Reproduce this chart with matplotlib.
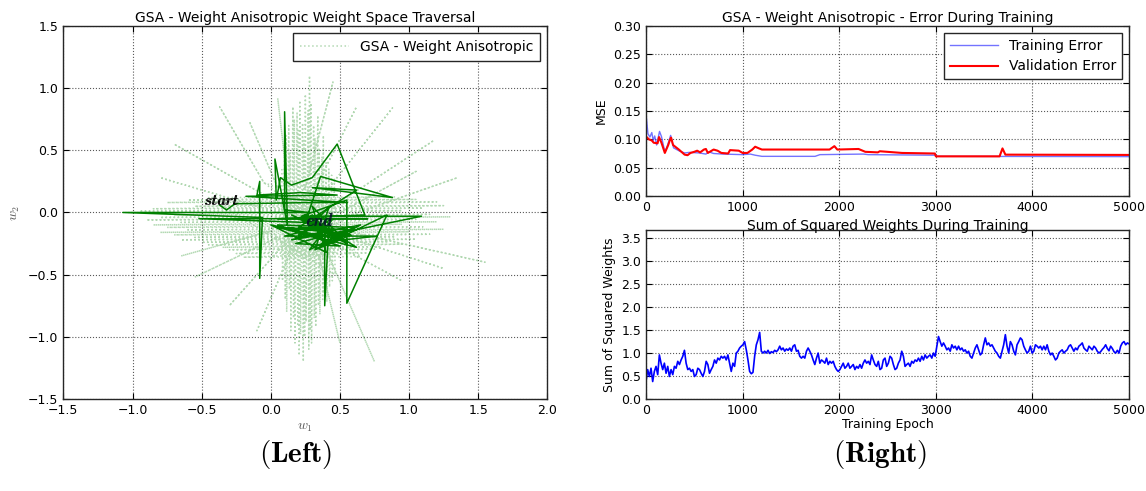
import numpy as np
import matplotlib
matplotlib.use("Agg")
import matplotlib.pyplot as plt

# ---------------- left panel: weight space traversal ----------------
# dotted cloud: vertical strokes (x, top, bottom)
vert_w1 = [0.08, 0.10, 0.11, 0.13, 0.14, 0.16, 0.17, 0.19, 0.20, 0.21, 0.23, 0.24, 0.25,
           0.27, 0.28, 0.29, 0.31, 0.32, 0.34, 0.35, 0.37, 0.38, 0.40, 0.42, 0.44, 0.46]
vert_top = [0.35, 0.55, 0.62, 0.70, 0.48, 0.85, 0.75, 0.80, 0.66, 0.90, 0.72, 0.58, 0.95,
            0.82, 1.10, 0.88, 0.70, 0.60, 0.78, 0.52, 0.45, 0.62, 0.40, 0.35, 0.30, 0.28]
vert_bot = [-0.55, -0.70, -0.80, -0.62, -0.95, -0.85, -1.05, -0.90, -1.15, -0.98, -1.20, -1.00, -0.88,
            -1.10, -0.95, -1.05, -0.85, -0.92, -0.75, -0.82, -0.70, -0.65, -0.72, -0.60, -0.55, -0.50]
# horizontal strokes (y, left, right)
horiz_w2 = [0.12, 0.10, 0.08, 0.05, 0.03, 0.01, -0.02, -0.04, -0.06, -0.08, -0.10, -0.12,
            -0.14, -0.16, -0.18, -0.20, -0.22, -0.24, -0.26, -0.28, -0.30, -0.33, -0.36]
horiz_left = [-0.45, -0.60, -0.75, -0.55, -0.85, -0.95, -0.70, -0.80, -0.90, -0.65, -0.85, -0.75,
              -0.60, -0.80, -0.70, -0.55, -0.65, -0.50, -0.45, -0.35, -0.30, -0.25, -0.20]
horiz_right = [0.90, 1.05, 1.20, 1.25, 1.10, 0.95, 1.15, 1.30, 1.05, 1.20, 0.95, 1.10,
               1.25, 1.00, 1.15, 0.90, 1.05, 0.85, 0.95, 0.80, 0.75, 0.70, 0.65]
# radial spokes (outer point -> inner point)
spoke_out_w1 = [-0.37, -0.15, 0.05, 0.45, 0.62, 0.88, 1.18, 1.35, 1.55, 1.25, 0.75, 0.50,
                -0.10, -0.30, -0.55, -0.65, -0.80, -0.70, 1.05, 0.95]
spoke_out_w2 = [0.85, 0.72, 0.92, 1.05, 0.85, 0.84, 0.58, 0.28, -0.40, -0.45, -1.20, -1.05,
                -0.95, -0.75, -0.52, -0.35, 0.28, 0.55, 0.33, -0.55]
spoke_in_w1 = [-0.05, 0.05, 0.12, 0.25, 0.30, 0.35, 0.45, 0.50, 0.55, 0.55, 0.40, 0.35,
               0.15, 0.10, 0.05, 0.00, 0.05, 0.10, 0.50, 0.45]
spoke_in_w2 = [0.24, 0.20, 0.25, 0.20, 0.15, 0.10, 0.05, -0.05, -0.15, -0.20, -0.30, -0.35,
               -0.30, -0.25, -0.20, -0.15, 0.00, 0.05, 0.00, -0.25]

# solid path
path_w1 = [-0.37, -0.32, -0.26, 0.30, 0.55, -0.18, 0.48, 0.22, -0.10,
           -0.08, -0.08, -0.06,
           -1.07, 0.28,
           0.10, 0.10, 0.12,
           0.03, 0.04, 0.07, 0.15,
           0.30, 0.48, 0.68,
           0.05, 0.70, -0.52, 0.25,
           0.36, 0.88,
           0.30, 0.62, 0.20, 0.58, 0.15,
           0.39, 0.39, 0.42,
           0.10, 0.77, 0.45,
           0.84, 0.55, 0.55,
           0.22, 1.09, 0.35,
           0.18, 0.50, 0.05, 0.60, 0.28, 0.45, 0.20, 0.35, 0.30, 0.26,
           0.45, 0.05, 0.62, 0.25, 0.50, 0.00, 0.40, 0.30, 0.55, 0.15,
           0.48, 0.35, 0.65, 0.20, 0.42, 0.32, 0.58, 0.12, 0.38, 0.30]
path_w2 = [0.06, 0.02, 0.07, 0.08, 0.08, 0.13, 0.14, 0.16, 0.14,
           0.25, -0.53, -0.04,
           0.00, 0.00,
           0.02, 0.81, -0.10,
           0.43, 0.10, 0.28, 0.22,
           0.28, 0.55, -0.02,
           -0.05, -0.05, -0.05, -0.08,
           0.29, 0.12,
           0.20, 0.18, -0.12, -0.14, -0.22,
           -0.15, -0.75, -0.10,
           -0.19, -0.19, -0.23,
           -0.02, -0.73, 0.10,
           -0.03, -0.03, -0.20,
           -0.25, -0.27, -0.10, -0.12, -0.30, -0.05, -0.18, -0.08, -0.02, -0.06,
           -0.15, -0.12, -0.28, -0.02, -0.22, -0.10, -0.32, 0.05, -0.25, -0.02,
           -0.18, -0.28, -0.10, -0.20, 0.04, -0.30, -0.18, -0.12, -0.22, -0.08]

# ---------------- right top: errors ----------------
train_epoch = [0, 20, 40, 60, 75, 90, 110, 140, 160, 195, 220, 255, 285, 350, 400, 450, 550,
               620, 650, 700, 800, 1000, 1080, 1130, 1200, 1750, 1800, 2250, 2300, 3000, 3010, 5000]
train_err = [0.145, 0.110, 0.104, 0.112, 0.098, 0.106, 0.090, 0.114, 0.105, 0.078, 0.088, 0.107,
             0.085, 0.079, 0.076, 0.077, 0.076, 0.074, 0.078, 0.075, 0.074, 0.073, 0.074, 0.072,
             0.070, 0.070, 0.073, 0.074, 0.073, 0.072, 0.070, 0.0695]
val_epoch = [0, 30, 60, 80, 120, 135, 160, 195, 230, 250, 260, 280, 340, 400, 430, 460, 500, 530,
             560, 600, 620, 640, 660, 700, 740, 780, 850, 870, 960, 1000, 1050, 1100, 1130, 1170,
             1200, 1900, 1950, 1980, 2200, 2270, 2400, 2420, 2650, 2990, 3000, 3660, 3690, 3720, 5000]
val_err = [0.105, 0.100, 0.098, 0.094, 0.093, 0.104, 0.094, 0.076, 0.090, 0.100, 0.103, 0.090,
           0.082, 0.073, 0.072, 0.076, 0.078, 0.080, 0.077, 0.082, 0.083, 0.076, 0.078, 0.082,
           0.080, 0.076, 0.075, 0.081, 0.080, 0.076, 0.076, 0.082, 0.087, 0.084, 0.082, 0.082,
           0.088, 0.082, 0.083, 0.078, 0.077, 0.079, 0.076, 0.075, 0.070, 0.070, 0.084, 0.073, 0.0725]

# ---------------- right bottom: sum of squared weights ----------------
ssw = [0.38, 0.64, 0.49, 0.67, 0.38, 0.60, 0.71, 0.53, 0.96, 0.78, 0.64, 0.78, 0.56, 0.71, 0.49,
       0.64, 0.53, 0.71, 0.67, 0.82, 0.75, 0.85, 0.93, 1.06, 0.78, 0.64, 0.67, 0.60, 0.64, 0.49,
       0.53, 0.67, 0.64, 0.56, 0.49, 0.60, 0.82, 0.75, 0.56, 0.64, 0.71, 0.85, 0.78, 0.89, 0.85,
       0.93, 0.89, 0.93, 0.85, 0.96, 0.78, 0.60, 0.78, 0.71, 1.00, 1.04, 1.11, 1.15, 1.18, 1.25,
       1.07, 0.85, 0.60, 0.55, 0.58, 0.93, 1.18, 1.29, 1.45, 1.04, 1.00, 1.04, 1.00, 1.06, 0.99,
       1.03, 1.01, 1.06, 1.03, 1.07, 1.15, 1.07, 1.11, 1.04, 1.09, 1.06, 1.11, 1.04, 1.15, 1.18,
       1.04, 1.06, 0.93, 0.89, 0.93, 0.89, 1.04, 1.11, 1.04, 0.96, 0.85, 0.75, 0.89, 1.00, 0.78,
       0.85, 0.82, 0.78, 0.89, 0.75, 0.82, 0.78, 0.82, 0.71, 0.64, 0.60, 0.64, 0.71, 0.78, 0.67,
       0.71, 0.78, 0.67, 0.71, 0.75, 0.64, 0.71, 0.67, 0.75, 0.67, 0.78, 0.85, 0.78, 0.82, 0.75,
       0.96, 0.85, 0.75, 0.71, 0.82, 0.64, 0.67, 0.85, 0.89, 0.71, 0.78, 0.93, 0.89, 0.75, 0.64,
       0.67, 0.78, 0.85, 1.04, 0.93, 0.71, 0.75, 0.78, 0.71, 0.82, 0.78, 0.85, 0.82, 0.89, 0.82,
       0.93, 0.85, 0.96, 0.89, 0.93, 0.96, 0.89, 1.00, 0.93, 1.15, 1.36, 1.25, 1.15, 1.22, 1.15,
       1.07, 1.11, 1.04, 1.18, 1.11, 1.15, 1.07, 1.15, 1.07, 1.11, 1.04, 1.07, 1.00, 1.04, 0.93,
       0.89, 1.00, 1.11, 1.18, 1.07, 0.96, 1.00, 1.18, 1.33, 1.18, 1.22, 1.15, 1.18, 1.11, 1.04,
       1.00, 0.93, 0.89, 1.04, 1.18, 1.40, 1.15, 1.00, 1.25, 1.18, 1.04, 0.96, 1.18, 1.25, 1.33,
       1.29, 1.15, 1.07, 1.00, 1.04, 1.15, 1.00, 1.04, 1.18, 1.15, 1.11, 1.15, 1.07, 1.15, 1.07,
       1.18, 1.04, 0.96, 1.00, 0.93, 0.85, 0.89, 1.00, 1.04, 1.07, 1.00, 1.04, 1.07, 1.15, 1.18,
       1.11, 1.04, 1.11, 1.07, 1.15, 1.18, 1.22, 1.11, 1.07, 1.04, 1.15, 1.11, 1.07, 1.15, 1.11,
       1.04, 1.00, 1.03, 1.08, 1.12, 1.18, 1.10, 1.05, 1.15, 1.10, 1.03, 1.00, 1.06, 1.00, 1.15,
       1.22, 1.25, 1.18, 1.22, 1.20]
ssw_epoch = np.linspace(0, 5000, len(ssw))

# ---------------- figure ----------------
plt.rcParams['mathtext.fontset'] = 'cm'
plt.rcParams['font.family'] = ['DejaVu Sans']
fig = plt.figure(figsize=(11.46, 4.91), dpi=100)
fig.patch.set_facecolor('white')

tick_fs = 9
title_fs = 10


def style_axes(ax):
    ax.grid(True, color='0.35', linestyle=':', linewidth=0.8)
    ax.tick_params(direction='in', labelsize=tick_fs, top=True, right=True, length=4)
    for s in ax.spines.values():
        s.set_color('0.15')
        s.set_linewidth(1.0)


# build the dotted polyline from the strokes
cloud_w1, cloud_w2 = [], []
for x, t, b in zip(vert_w1, vert_top, vert_bot):
    cloud_w1 += [x, x + 0.005]
    cloud_w2 += [t, b]
for y, l, r in zip(horiz_w2, horiz_left, horiz_right):
    cloud_w1 += [l, r]
    cloud_w2 += [y, y + 0.005]
for ox, oy, ix, iy in zip(spoke_out_w1, spoke_out_w2, spoke_in_w1, spoke_in_w2):
    cloud_w1 += [ix, ox, ix]
    cloud_w2 += [iy, oy, iy]

axL = fig.add_axes([0.0553, 0.1874, 0.4223, 0.7597])
style_axes(axL)
axL.plot(cloud_w1, cloud_w2, linestyle=':', color='green', alpha=0.3, linewidth=1.1,
         label='GSA - Weight Anisotropic')
axL.plot(path_w1, path_w2, '-', color='green', linewidth=1.1)
for dx in (0.0, 0.008):
    axL.text(-0.49 + dx, 0.06, r'$start$', fontsize=11.5, color='black', zorder=6)
    axL.text(0.25 + dx, -0.11, r'$end$', fontsize=12, color='#0a1a2a', zorder=6)
axL.set_xlim(-1.5, 2.0)
axL.set_ylim(-1.5, 1.5)
axL.set_xticks(np.arange(-1.5, 2.01, 0.5))
axL.set_yticks(np.arange(-1.5, 1.51, 0.5))
axL.set_xlabel(r'$w_1$', fontsize=10, color='0.35', labelpad=2)
axL.set_ylabel(r'$w_2$', fontsize=10, color='0.35')
axL.set_title('GSA - Weight Anisotropic Weight Space Traversal', fontsize=title_fs, pad=3)
leg = axL.legend(loc='upper right', fontsize=10, fancybox=False, framealpha=1,
                 edgecolor='0.15', handlelength=3.5, borderpad=0.5)
leg.get_frame().set_linewidth(1.0)

axT = fig.add_axes([0.5637, 0.6008, 0.4215, 0.3462])
style_axes(axT)
axT.plot(train_epoch, train_err, color='blue', alpha=0.55, linewidth=1.0, label='Training Error')
axT.plot(val_epoch, val_err, color='red', linewidth=1.5, label='Validation Error')
axT.set_xlim(0, 5000)
axT.set_ylim(0, 0.30)
axT.set_yticks(np.arange(0, 0.301, 0.05))
axT.set_ylabel('MSE', fontsize=9)
axT.set_title('GSA - Weight Anisotropic - Error During Training', fontsize=title_fs, pad=3)
leg2 = axT.legend(loc='upper right', fontsize=10, fancybox=False, framealpha=1,
                  edgecolor='0.15', handlelength=3.5, borderpad=0.4)
leg2.get_frame().set_linewidth(1.0)

axB = fig.add_axes([0.5637, 0.1874, 0.4215, 0.3442])
style_axes(axB)
axB.plot(ssw_epoch, ssw, color='blue', linewidth=1.2)
axB.set_xlim(0, 5000)
axB.set_ylim(0, 3.68)
axB.set_yticks(np.arange(0, 3.51, 0.5))
axB.set_ylabel('Sum of Squared Weights', fontsize=9)
axB.set_xlabel('Training Epoch', fontsize=9, labelpad=1)
axB.set_title('Sum of Squared Weights During Training', fontsize=title_fs, pad=0)

fig.text(0.2575, 0.075, r'$\mathbf{(Left)}$', fontsize=21, ha='center', va='center')
fig.text(0.768, 0.075, r'$\mathbf{(Right)}$', fontsize=21, ha='center', va='center')

fig.savefig('out.png', dpi=100, facecolor='white')
